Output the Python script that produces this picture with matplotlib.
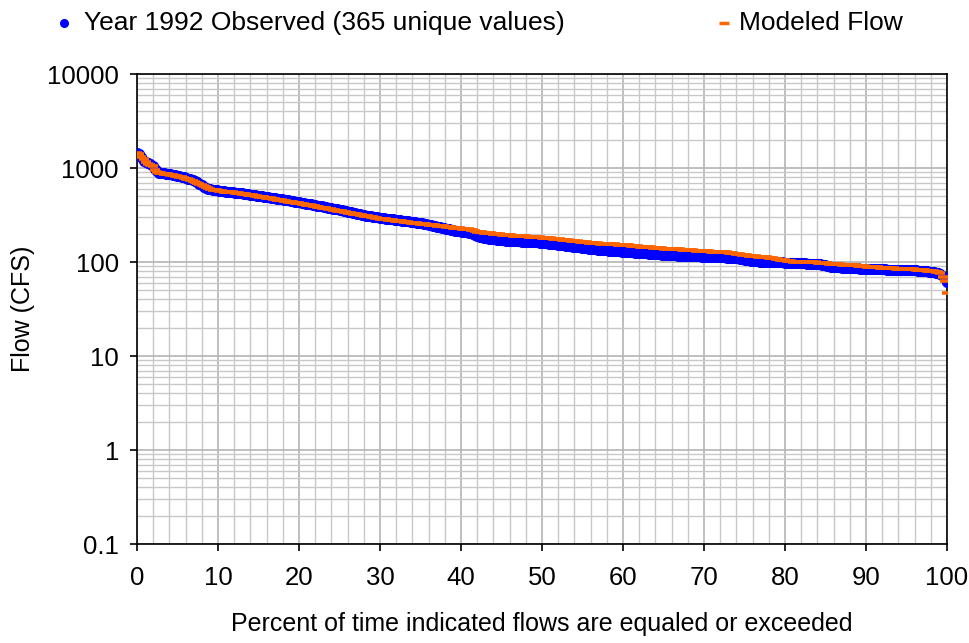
import numpy as np
import matplotlib
matplotlib.use("Agg")
import matplotlib.pyplot as plt
from matplotlib.lines import Line2D
from matplotlib.ticker import FixedLocator, FuncFormatter, NullFormatter, LogLocator

plt.rcParams['font.family'] = ['Liberation Sans', 'DejaVu Sans']

# sorted daily flows (CFS), highest first
observed_flow = [
    1450, 1400, 1300, 1200, 1150, 1120, 1100, 1060, 980, 920,
    890, 885, 878, 870, 862, 853, 845, 837, 828, 820,
    810, 798, 785, 770, 755, 740, 725, 705, 680, 655,
    635, 615, 602, 594, 588, 583, 578, 574, 570, 566,
    562, 558, 555, 551, 548, 544, 540, 536, 532, 528,
    524, 520, 516, 512, 508, 504, 500, 496, 492, 488,
    484, 480, 476, 472, 468, 464, 460, 456, 452, 448,
    444, 440, 436, 432, 428, 424, 419, 414, 410, 406,
    402, 398, 394, 390, 386, 382, 378, 374, 370, 366,
    362, 358, 354, 350, 346, 342, 338, 334, 330, 326,
    322, 318, 315, 312, 309, 306, 303, 300, 298, 296,
    294, 292, 290, 288, 286, 284, 282, 280, 278, 276,
    274, 272, 270, 268, 266, 264, 262, 260, 258, 256,
    253, 250, 247, 244, 241, 238, 235, 232, 229, 226,
    223, 220, 218, 216, 214, 212, 210, 208, 206, 204,
    202, 198, 194, 190, 186, 183, 180, 178, 177, 176,
    175, 174, 173, 172, 171, 170, 169, 168, 168, 167,
    167, 166, 166, 165, 165, 164, 164, 163, 163, 162,
    162, 161, 160, 159, 158, 157, 156, 155, 154, 153,
    152, 151, 150, 149, 148, 147, 146, 145, 144, 143,
    142, 141, 140, 139, 138, 137, 136, 135, 134, 134,
    133, 133, 132, 132, 131, 131, 130, 130, 129, 129,
    128, 128, 127, 127, 126, 126, 125, 125, 124, 124,
    123, 123, 122, 122, 121, 121, 120, 120, 119, 119,
    118, 118, 118, 117, 117, 117, 116, 116, 116, 116,
    115, 115, 115, 115, 114, 114, 114, 114, 113, 113,
    113, 113, 112, 112, 112, 111, 111, 111, 110, 110,
    109, 108, 107, 106, 105, 104, 103, 103, 102, 102,
    101, 101, 100, 100, 100, 100, 99, 99, 99, 99,
    99, 98, 98, 98, 98, 98, 97, 97, 97, 97,
    97, 96, 96, 96, 96, 95, 95, 95, 94, 93,
    91, 90, 89, 89, 88, 88, 88, 87, 87, 87,
    87, 86, 86, 86, 86, 85, 85, 85, 85, 85,
    84, 84, 84, 84, 84, 84, 84, 83, 83, 83,
    83, 83, 83, 83, 83, 82, 82, 82, 82, 82,
    82, 81, 81, 81, 80, 80, 79, 79, 78, 77,
    76, 74, 71, 67, 61,
]

modeled_flow = [
    1440, 1400, 1300, 1250, 1160, 1100, 1080, 1050, 960, 910,
    885, 878, 870, 862, 853, 845, 836, 827, 818, 808,
    797, 785, 772, 758, 744, 730, 715, 700, 680, 660,
    640, 622, 608, 598, 590, 583, 577, 571, 566, 561,
    558, 555, 552, 549, 546, 542, 540, 535, 530, 525,
    520, 515, 511, 506, 501, 497, 492, 488, 483, 479,
    474, 470, 466, 461, 457, 453, 449, 445, 440, 436,
    432, 428, 424, 420, 416, 412, 408, 404, 400, 396,
    392, 388, 384, 380, 376, 372, 368, 364, 360, 356,
    353, 349, 345, 342, 338, 335, 331, 328, 325, 321,
    318, 315, 312, 309, 305, 302, 299, 296, 293, 290,
    288, 286, 284, 282, 280, 278, 276, 274, 272, 270,
    268, 266, 265, 263, 261, 260, 258, 256, 255, 253,
    251, 250, 248, 247, 245, 243, 242, 240, 239, 237,
    235, 234, 232, 231, 229, 228, 226, 225, 223, 222,
    220, 217, 214, 211, 208, 206, 204, 203, 202, 201,
    200, 199, 198, 197, 196, 195, 194, 193, 192, 191,
    190, 189, 188, 188, 187, 187, 186, 186, 185, 185,
    184, 183, 182, 181, 180, 179, 178, 177, 176, 175,
    174, 173, 172, 171, 170, 169, 168, 167, 166, 165,
    164, 163, 162, 161, 160, 159, 159, 158, 157, 157,
    156, 156, 155, 155, 154, 154, 153, 153, 152, 152,
    151, 150, 149, 149, 148, 147, 146, 146, 145, 144,
    143, 143, 142, 141, 141, 140, 140, 139, 139, 138,
    138, 137, 137, 136, 136, 135, 135, 134, 134, 133,
    133, 132, 132, 131, 131, 130, 130, 130, 129, 129,
    129, 128, 128, 128, 127, 127, 126, 125, 124, 123,
    122, 121, 120, 119, 118, 117, 116, 115, 115, 114,
    114, 113, 113, 112, 111, 110, 109, 108, 107, 106,
    105, 104, 103, 102, 102, 101, 101, 100, 100, 100,
    100, 100, 99, 99, 99, 99, 98, 98, 98, 97,
    97, 96, 96, 96, 95, 95, 95, 94, 94, 94,
    93, 93, 92, 92, 91, 91, 90, 90, 89, 89,
    89, 88, 88, 88, 87, 87, 87, 86, 86, 86,
    86, 85, 85, 85, 85, 84, 84, 84, 84, 84,
    83, 83, 83, 82, 82, 81, 81, 80, 80, 79,
    78, 76, 70, 63, 47,
]

x_ticks = [0, 10, 20, 30, 40, 50, 60, 70, 80, 90, 100]
y_ticks = [0.1, 1, 10, 100, 1000, 10000]

# exceedance percent for each ranked value
obs_pct = np.arange(len(observed_flow)) / (len(observed_flow) - 1) * 100
mod_pct = np.arange(len(modeled_flow)) / (len(modeled_flow) - 1) * 100

W, H = 969, 643
fig = plt.figure(figsize=(W / 100, H / 100), dpi=100)
ax = fig.add_axes([137 / W, 1 - 544 / H, 810 / W, 470 / H])

blue = '#0000ff'
orange = '#ff6600'
fs = 18

ax.plot(obs_pct, observed_flow, linestyle='none', marker='o', markersize=7,
        markerfacecolor=blue, markeredgecolor=blue, zorder=3)
ax.plot(mod_pct, modeled_flow, linestyle='none', marker='_', markersize=7.5,
        markeredgewidth=2.6, color=orange, zorder=4)

ax.set_yscale('log')
ax.set_xlim(0, 100)
ax.set_ylim(0.1, 10000)

ax.xaxis.set_major_locator(FixedLocator(x_ticks))
ax.xaxis.set_minor_locator(FixedLocator(np.arange(0, 101, 2)))
ax.yaxis.set_major_locator(FixedLocator(y_ticks))
ax.yaxis.set_minor_locator(LogLocator(base=10, subs=np.arange(2, 10)))
ax.yaxis.set_major_formatter(FuncFormatter(lambda v, p: '%g' % v))
ax.yaxis.set_minor_formatter(NullFormatter())

ax.grid(True, which='minor', color='#c8c8c8', linewidth=1.0)
ax.grid(True, which='major', color='#b4b4b4', linewidth=1.2)
ax.set_axisbelow(True)

ax.tick_params(which='major', direction='out', length=5, width=1.2,
               labelsize=18.5, color='black')
ax.tick_params(axis='y', pad=8)
ax.tick_params(axis='x', pad=11)
ax.tick_params(which='minor', length=0)
for s in ax.spines.values():
    s.set_color('black')
    s.set_linewidth(1.2)

fig.text(542 / W, 1 - 624 / H, 'Percent of time indicated flows are equaled or exceeded',
         fontsize=fs, ha='center', va='center')
fig.text(23 / W, 1 - 309 / H, 'Flow (CFS)', fontsize=fs, rotation=90,
         ha='center', va='center')

# legend row above the plot
ly = 1 - 23 / H
fig.add_artist(Line2D([64 / W], [ly], linestyle='none', marker='o', markersize=5.5,
                      color=blue))
fig.text(84 / W, ly, 'Year 1992 Observed (365 unique values)', fontsize=19,
         ha='left', va='center')
fig.add_artist(Line2D([724 / W], [ly], linestyle='none', marker='_', markersize=6.5,
                      markeredgewidth=2.5, color=orange))
fig.text(739 / W, ly, 'Modeled Flow', fontsize=19, ha='left', va='center')

fig.savefig('out.png', dpi=100)
